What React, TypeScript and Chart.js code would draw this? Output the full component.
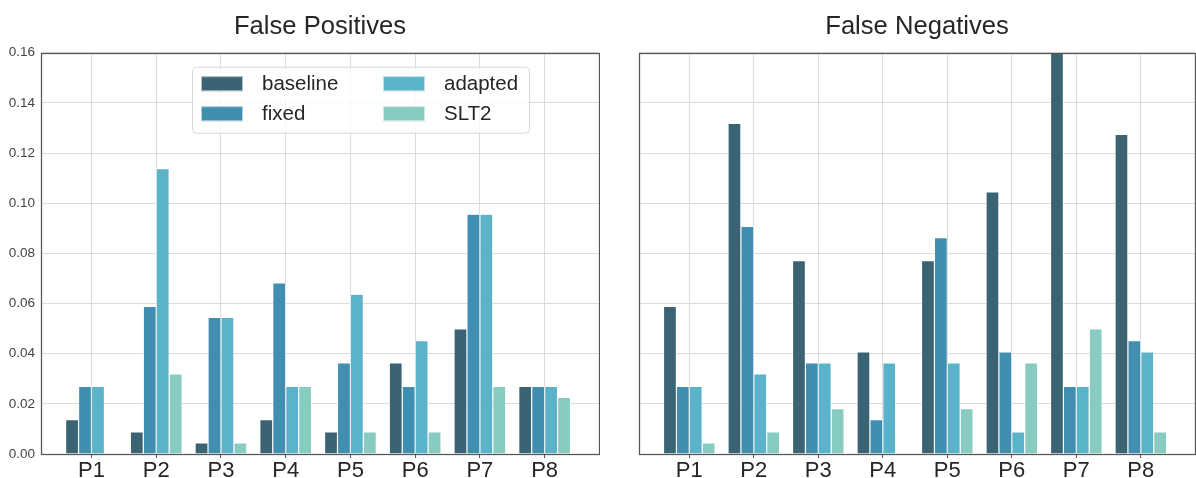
import React, { useEffect, useRef } from "react";
import { Chart, registerables } from "chart.js";

Chart.register(...registerables);

const categories = ["P1", "P2", "P3", "P4", "P5", "P6", "P7", "P8"];
const seriesNames = ["baseline", "fixed", "adapted", "SLT2"];
const seriesColors = ["#3a6373", "#418fb0", "#5ab3c9", "#88cbc1"];
const yTicks = [0, 0.02, 0.04, 0.06, 0.08, 0.1, 0.12, 0.14, 0.16];

const fpBaseline = [0.0137, 0.0088, 0.0044, 0.0137, 0.0088, 0.0363, 0.0499, 0.027];
const fpFixed = [0.027, 0.0589, 0.0545, 0.0682, 0.0363, 0.027, 0.0956, 0.027];
const fpAdapted = [0.027, 0.1138, 0.0545, 0.027, 0.0637, 0.0452, 0.0956, 0.027];
const fpSLT2 = [0, 0.0319, 0.0044, 0.027, 0.0088, 0.0088, 0.027, 0.0226];

const fnBaseline = [0.0589, 0.1318, 0.0771, 0.0407, 0.0771, 0.1045, 0.16, 0.1274];
const fnFixed = [0.027, 0.0907, 0.0363, 0.0137, 0.0863, 0.0407, 0.027, 0.0452];
const fnAdapted = [0.027, 0.0319, 0.0363, 0.0363, 0.0363, 0.0088, 0.027, 0.0407];
const fnSLT2 = [0.0044, 0.0088, 0.0181, 0, 0.0181, 0.0363, 0.0499, 0.0088];

const FONT = "'Liberation Sans', Arial, sans-serif";
const TEXT = "#262626";
const GRID = "#dcdcdc";
const SPINE = "#555555";

const frameBox = {
  id: "frameBox",
  afterDatasetsDraw(chart: any) {
    const { ctx, chartArea } = chart;
    ctx.save();
    ctx.strokeStyle = SPINE;
    ctx.lineWidth = 1.25;
    ctx.strokeRect(
      Math.round(chartArea.left) + 0.5,
      Math.round(chartArea.top) + 0.5,
      Math.round(chartArea.right - chartArea.left),
      Math.round(chartArea.bottom - chartArea.top)
    );
    ctx.restore();
  },
};

const boxLegend = {
  id: "boxLegend",
  afterDraw(chart: any, _args: any, opts: any) {
    if (!opts || !opts.show) return;
    const { ctx, chartArea } = chart;
    const x0 = chartArea.left + 151;
    const y0 = chartArea.top + 14;
    const w = 337;
    const h = 66;
    ctx.save();
    ctx.beginPath();
    (ctx as any).roundRect(x0 + 0.5, y0 + 0.5, w, h, 4);
    ctx.fillStyle = "rgba(255,255,255,0.8)";
    ctx.fill();
    ctx.strokeStyle = "#d8d8d8";
    ctx.lineWidth = 1;
    ctx.stroke();
    const cols = [9, 191];
    const rows = [17, 47];
    ctx.font = `20.5px ${FONT}`;
    ctx.textBaseline = "middle";
    ctx.textAlign = "left";
    chart.data.datasets.forEach((ds: any, i: number) => {
      const cx = x0 + cols[Math.floor(i / 2)];
      const cy = y0 + rows[i % 2];
      ctx.fillStyle = ds.backgroundColor;
      ctx.fillRect(cx, cy - 7.5, 42, 15);
      ctx.strokeStyle = "rgba(255,255,255,0.6)";
      ctx.strokeRect(cx + 0.5, cy - 7, 41, 14);
      ctx.fillStyle = TEXT;
      ctx.fillText(ds.label, cx + 61, cy + 1);
    });
    ctx.restore();
  },
};

function makeConfig(title: string, series: number[][], showYLabels: boolean, showLegend: boolean, yAxisWidth: number) {
  return {
    type: "bar",
    data: {
      datasets: series.map((vals, si) => ({
        label: seriesNames[si],
        data: vals.map((v, i) => ({ x: i, y: v })),
        backgroundColor: seriesColors[si],
        borderColor: "#ffffff",
        borderWidth: 0.6,
        categoryPercentage: 0.8,
        barPercentage: 1,
      })),
    },
    options: {
      animation: false,
      responsive: false,
      layout: { padding: { left: 0, right: 1, top: 0, bottom: 0 } },
      plugins: {
        legend: { display: false },
        tooltip: { enabled: false },
        title: {
          display: true,
          text: title,
          fullSize: false,
          color: TEXT,
          font: { family: FONT, size: 25.6, weight: "normal" },
          padding: { top: 12, bottom: 10 },
        },
        boxLegend: { show: showLegend },
      },
      scales: {
        x: {
          type: "linear",
          min: -0.78,
          max: 7.84,
          offset: false,
          afterBuildTicks: (scale: any) => {
            scale.ticks = categories.map((_, i) => ({ value: i }));
          },
          afterFit: (scale: any) => {
            scale.height = 24;
          },
          ticks: {
            autoSkip: false,
            maxRotation: 0,
            padding: 0,
            color: TEXT,
            font: { family: FONT, size: 22 },
            callback: (_v: any, index: number) => categories[index],
          },
          grid: {
            offset: false,
            color: GRID,
            lineWidth: 1,
            drawTicks: true,
            tickLength: 4,
            tickColor: SPINE,
          },
          border: { display: false },
        },
        y: {
          min: 0,
          max: 0.16,
          afterBuildTicks: (scale: any) => {
            scale.ticks = yTicks.map((v) => ({ value: v }));
          },
          afterFit: (scale: any) => {
            scale.width = yAxisWidth;
          },
          ticks: {
            display: showYLabels,
            padding: 6,
            color: "#444444",
            font: { family: FONT, size: 13.5 },
            callback: (v: any) => Number(v).toFixed(2),
          },
          grid: { color: GRID, lineWidth: 1, drawTicks: false },
          border: { display: false },
        },
      },
    },
    plugins: [frameBox, boxLegend],
  };
}

function BarPanel(props: { title: string; series: number[][]; showYLabels: boolean; showLegend: boolean; yAxisWidth: number; left: number; width: number }) {
  const ref = useRef<HTMLCanvasElement | null>(null);
  useEffect(() => {
    if (!ref.current) return;
    const chart = new Chart(
      ref.current,
      makeConfig(props.title, props.series, props.showYLabels, props.showLegend, props.yAxisWidth) as any
    );
    return () => chart.destroy();
  }, []);
  return (
    <div style={{ position: "absolute", left: props.left, top: 0, width: props.width, height: 478 }}>
      <canvas ref={ref} width={props.width} height={478} style={{ display: "block" }} />
    </div>
  );
}

export default function App() {
  return (
    <div style={{ position: "fixed", left: 0, top: 0, width: 1196, height: 478, background: "#ffffff" }}>
      <BarPanel
        title="False Positives"
        series={[fpBaseline, fpFixed, fpAdapted, fpSLT2]}
        showYLabels={true}
        showLegend={true}
        yAxisWidth={41}
        left={0}
        width={600}
      />
      <BarPanel
        title="False Negatives"
        series={[fnBaseline, fnFixed, fnAdapted, fnSLT2]}
        showYLabels={false}
        showLegend={false}
        yAxisWidth={39}
        left={600}
        width={596}
      />
    </div>
  );
}
